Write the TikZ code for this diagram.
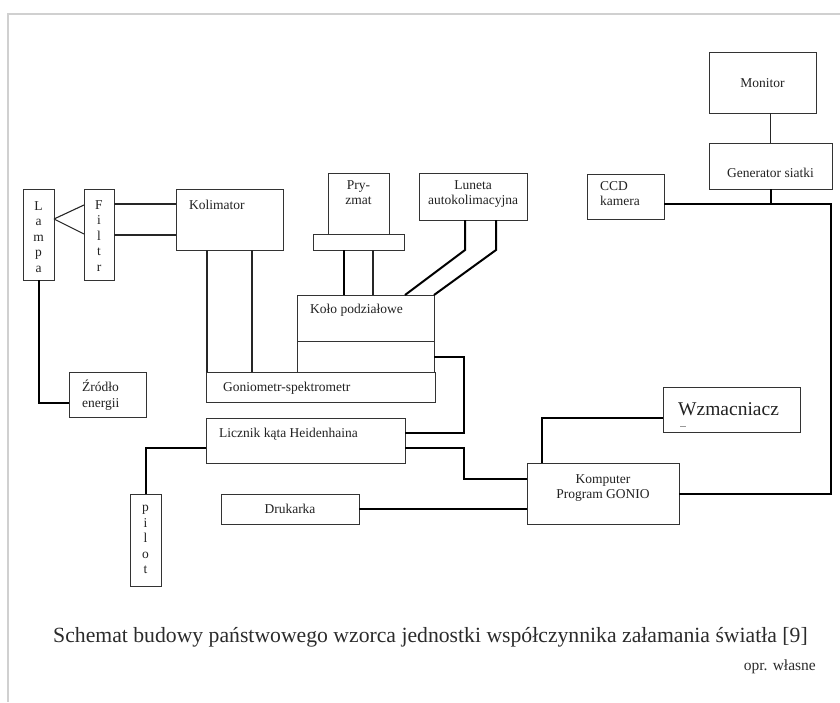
\documentclass[tikz,border=0pt]{standalone}
\usepackage{fontspec}
\setmainfont{Liberation Serif}
\usetikzlibrary{calc}
\definecolor{boxc}{HTML}{333333}
\definecolor{txt}{HTML}{222222}
\definecolor{captc}{HTML}{2B2B2B}
\definecolor{framec}{HTML}{D0D0D0}
\begin{document}
\begin{tikzpicture}[x=1pt,y=-1pt,
 box/.style={draw=boxc, line width=1pt, anchor=north west, inner sep=0pt, outer sep=0pt, fill=white},
 lbl/.style={font=\fontsize{13.5}{15.5}\selectfont, text=txt, inner sep=0pt},
 thickc/.style={line width=2pt, black},
 thinc/.style={line width=1.1pt, black!85}]
\useasboundingbox (0,0) rectangle (840,702);
\draw[line width=1.5pt, framec] (840,14) -- (8,14) -- (8,702);

% boxes
\node[box, minimum width=31pt, minimum height=91pt] (lampa) at (23,189) {};
\node[box, minimum width=30pt, minimum height=91pt] (filtr) at (84,189) {};
\node[box, minimum width=107pt, minimum height=61pt] (kol) at (176,189) {};
\node[box, minimum width=61pt, minimum height=61pt] (pryz) at (328,173) {};
\node[box, minimum width=91pt, minimum height=16pt] (stolik) at (313,234) {};
\node[box, minimum width=108pt, minimum height=47pt] (luneta) at (419,173) {};
\node[box, minimum width=137pt, minimum height=46pt] (kolo) at (297,295) {};
\node[box, minimum width=137pt, minimum height=31pt] (koloB) at (297,341) {};
\node[box, minimum width=229pt, minimum height=30pt] (gonio) at (206,372) {};
\node[box, minimum width=77pt, minimum height=45pt] (zrodlo) at (69,372) {};
\node[box, minimum width=199pt, minimum height=45pt] (licznik) at (206,418) {};
\node[box, minimum width=31pt, minimum height=92pt] (pilot) at (130,494) {};
\node[box, minimum width=138pt, minimum height=30pt] (druk) at (221,494) {};
\node[box, minimum width=152pt, minimum height=61pt] (komp) at (527,463) {};
\node[box, minimum width=137pt, minimum height=45pt] (wzm) at (663,387) {};
\node[box, minimum width=77pt, minimum height=45pt] (ccd) at (587,174) {};
\node[box, minimum width=107pt, minimum height=61pt] (mon) at (709,52) {};
\node[box, minimum width=123pt, minimum height=46pt] (gen) at (709,143) {};

% labels
\node[lbl, align=center, anchor=north] (lampaT) at (38.5,201) {L\\a\\m\\p\\a};
\node[lbl, align=center, anchor=north] (filtrT) at (99,200) {F\\i\\l\\t\\r};
\node[lbl, align=center, anchor=north] (pilotT) at (145.5,505) {p\\i\\l\\o\\t};
\node[lbl, anchor=base west] (kolT) at (189,209) {Kolimator};
\node[lbl, align=center, anchor=north] (pryzT) at (358.5,180) {Pry-\\zmat};
\node[lbl, align=center, anchor=north] (lunetaT) at (473,180) {Luneta\\autokolimacyjna};
\node[lbl, anchor=base west] (koloT) at (310,313) {Koło podziałowe};
\node[lbl, anchor=base west] (gonioT) at (223,391) {Goniometr-spektrometr};
\node[lbl, align=left, anchor=north west] (zrodloT) at (82,380) {Źródło\\energii};
\node[lbl, anchor=base west] (licznikT) at (219,437) {Licznik kąta Heidenhaina};
\node[lbl, anchor=base] (drukT) at (290,513) {Drukarka};
\node[lbl, align=center, anchor=north] (kompT) at (603,474) {Komputer\\Program GONIO};
\node[lbl, font=\fontsize{19.5}{22}\selectfont, anchor=base west] (wzmT) at (678,415) {Wzmacniacz};
\node[lbl, align=left, anchor=north west] (ccdT) at (600,181) {CCD\\kamera};
\node[lbl, anchor=base] (monT) at (762.5,87) {Monitor};
\node[lbl, anchor=base] (genT) at (770.5,177) {Generator siatki};
\draw[line width=0.6pt, black!40] (680,426) -- (686,426);

% connectors
\coordinate (apex) at ($(lampa.north east)+(0,30)$);
\draw[thinc] (apex) -- ($(filtr.north west)+(0,16)$);
\draw[thinc] (apex) -- ($(filtr.north west)+(0,45)$);
\draw[thinc] ($(filtr.north east)+(0,15)$) -- ($(kol.north west)+(0,15)$);
\draw[thinc] ($(filtr.north east)+(0,46)$) -- ($(kol.north west)+(0,46)$);
\draw[thinc] ($(kol.south west)+(31,0)$) coordinate (k1) -- (k1 |- gonio.north);
\draw[thinc] ($(kol.south west)+(76,0)$) coordinate (k2) -- (k2 |- gonio.north);
\draw[thickc] (lampa.south) |- ($(zrodlo.north west)+(0,31)$);
\draw[thickc] ($(stolik.south west)+(31,0)$) coordinate (s1) -- (s1 |- kolo.north);
\draw[thinc] ($(stolik.south west)+(60,0)$) coordinate (s2) -- (s2 |- kolo.north);
\draw[thickc] ($(luneta.south west)+(46,0)$) -- ++(0,30) -- ($(kolo.north west)+(108,0)$);
\draw[thickc] ($(luneta.south west)+(77,0)$) -- ++(0,30) -- (kolo.north east);
\draw[thickc] ($(koloB.north east)+(0,16)$) -- ++(30,0) |- ($(licznik.north east)+(0,15)$);
\draw[thickc] ($(licznik.north east)+(0,30)$) -- ++(59,0) |- ($(komp.north west)+(0,16)$);
\draw[thickc] ($(licznik.north west)+(0,30)$) -| (pilot.north);
\draw[thickc] (druk.east) -- (druk.east -| komp.west);
\draw[thickc] ($(komp.north west)+(15,0)$) |- ($(wzm.north west)+(0,31)$);
\draw[thickc] ($(komp.north east)+(0,31)$) -- ++(152,0) |- ($(ccd.north east)+(0,30)$) coordinate (cl);
\draw[thickc] (gen.south) -- (gen.south |- cl);
\draw[thinc] (gen.north) -- (gen.north |- mon.south);

% caption
\node[anchor=base west, inner sep=0pt, font=\fontsize{21.7}{26}\selectfont, text=captc] (cap) at (53,642) {Schemat budowy państwowego wzorca jednostki współczynnika załamania światła [9]};
\node[anchor=base east, inner sep=0pt, font=\fontsize{15.5}{18}\selectfont, text=captc] (opr) at (816,670) {opr. własne};
\end{tikzpicture}
\end{document}
